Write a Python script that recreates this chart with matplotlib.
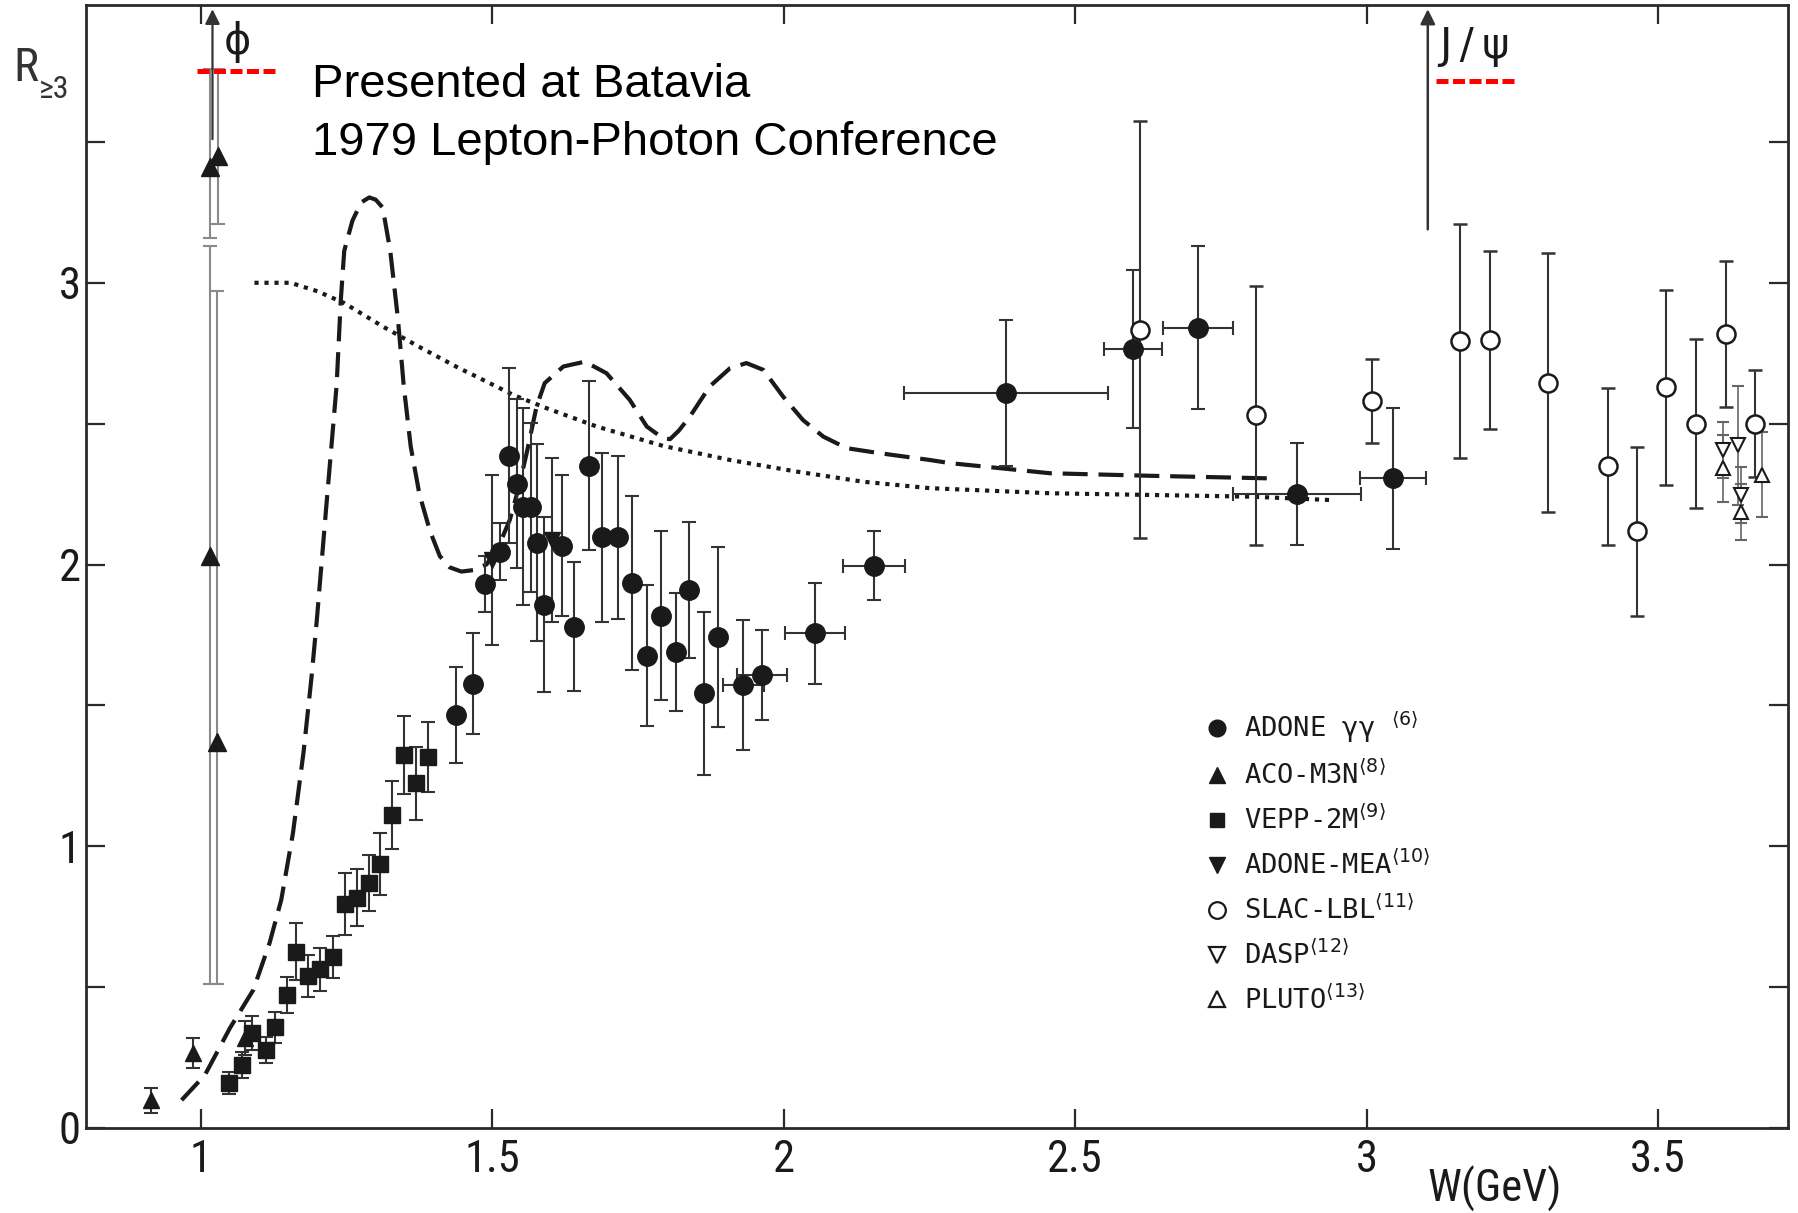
import matplotlib
matplotlib.use("Agg")
import matplotlib.pyplot as plt
from matplotlib.lines import Line2D
from matplotlib import font_manager as fm

# ---------------- data ----------------
# ADONE gamma-gamma (filled circles)
adone_w = [1.437, 1.467, 1.487, 1.513, 1.528, 1.543, 1.553, 1.567, 1.576, 1.589,
           1.619, 1.640, 1.666, 1.689, 1.715, 1.739, 1.765, 1.790, 1.815, 1.837,
           1.863, 1.888, 1.931, 1.963, 2.054, 2.155, 2.381, 2.599, 2.710, 2.880, 3.045]
adone_r = [1.466, 1.577, 1.930, 2.046, 2.386, 2.286, 2.205, 2.203, 2.078, 1.857,
           2.066, 1.780, 2.351, 2.096, 2.096, 1.934, 1.677, 1.819, 1.689, 1.910,
           1.543, 1.742, 1.573, 1.608, 1.756, 1.996, 2.608, 2.764, 2.841, 2.250, 2.306]
adone_dr = [0.17, 0.18, 0.10, 0.10, 0.31, 0.30, 0.35, 0.30, 0.35, 0.31,
            0.25, 0.23, 0.30, 0.30, 0.29, 0.31, 0.25, 0.30, 0.21, 0.24,
            0.29, 0.32, 0.23, 0.16, 0.18, 0.123, 0.26, 0.28, 0.29, 0.18, 0.25]
adone_dw = [0, 0, 0, 0, 0, 0, 0, 0, 0, 0,
            0, 0, 0, 0, 0, 0, 0, 0, 0, 0,
            0, 0, 0.035, 0.043, 0.052, 0.053, 0.175, 0.05, 0.06, 0.11, 0.057]

# ACO-M3N (filled up triangles); first three off-resonance, rest near the phi
aco_w = [0.915, 0.987, 1.076, 1.015, 1.030, 1.015, 1.028]
aco_r = [0.098, 0.265, 0.319, 3.41, 3.45, 2.03, 1.37]
aco_lo = [0.045, 0.053, 0.06, 0.25, 0.24, 1.52, 0.86]
aco_hi = [0.045, 0.053, 0.06, 0.35, 0.31, 1.10, 1.60]

# VEPP-2M (filled squares)
vepp_w = [1.049, 1.070, 1.087, 1.111, 1.128, 1.147, 1.164, 1.184, 1.204, 1.227,
          1.247, 1.268, 1.289, 1.308, 1.328, 1.348, 1.369, 1.390]
vepp_r = [0.159, 0.224, 0.336, 0.277, 0.357, 0.472, 0.626, 0.540, 0.563, 0.606,
          0.795, 0.818, 0.869, 0.937, 1.111, 1.324, 1.224, 1.316]
vepp_dr = [0.04, 0.045, 0.06, 0.045, 0.055, 0.065, 0.10, 0.075, 0.075, 0.075,
           0.11, 0.10, 0.10, 0.11, 0.12, 0.14, 0.13, 0.125]

# ADONE-MEA (filled down triangles)
mea_w = [1.499, 1.603]
mea_r = [2.016, 2.087]
mea_dr = [0.30, 0.29]

# SLAC-LBL (open circles)
slac_w = [2.611, 2.810, 3.010, 3.160, 3.211, 3.312, 3.415, 3.464, 3.513, 3.565, 3.616, 3.666]
slac_r = [2.833, 2.529, 2.581, 2.792, 2.797, 2.646, 2.348, 2.118, 2.629, 2.499, 2.819, 2.499]
slac_dr = [0.74, 0.46, 0.15, 0.415, 0.315, 0.46, 0.28, 0.30, 0.345, 0.30, 0.26, 0.19]

# DASP (open down triangles)
dasp_w = [3.612, 3.638, 3.642]
dasp_r = [2.406, 2.423, 2.247]
dasp_dr = [0.10, 0.21, 0.10]

# PLUTO (open up triangles)
pluto_w = [3.612, 3.642, 3.678]
pluto_r = [2.341, 2.187, 2.319]
pluto_dr = [0.12, 0.10, 0.15]

# model curves
dashed_w = [0.967, 1.007, 1.050, 1.090, 1.118, 1.138, 1.158, 1.176, 1.190, 1.199,
            1.215, 1.233, 1.240, 1.246, 1.260, 1.275, 1.289, 1.300, 1.312, 1.325,
            1.338, 1.348, 1.360, 1.375, 1.393, 1.410, 1.427, 1.447, 1.467, 1.490,
            1.510, 1.530, 1.545, 1.559, 1.576, 1.590, 1.622, 1.659, 1.696, 1.736,
            1.765, 1.793, 1.805, 1.820, 1.839, 1.873, 1.908, 1.936, 1.965, 1.999,
            2.033, 2.068, 2.108, 2.165, 2.251, 2.285, 2.457, 2.628, 2.829]
dashed_r = [0.099, 0.188, 0.355, 0.490, 0.657, 0.810, 1.046, 1.330, 1.602, 1.803,
            2.200, 2.637, 2.934, 3.113, 3.220, 3.285, 3.303, 3.295, 3.267, 3.113,
            2.875, 2.637, 2.420, 2.250, 2.120, 2.030, 1.990, 1.975, 1.980, 2.000,
            2.060, 2.158, 2.270, 2.395, 2.561, 2.644, 2.703, 2.720, 2.679, 2.584,
            2.490, 2.448, 2.445, 2.475, 2.525, 2.632, 2.697, 2.715, 2.691, 2.596,
            2.513, 2.454, 2.413, 2.395, 2.371, 2.360, 2.324, 2.315, 2.306]
dotted_w = [1.092, 1.154, 1.200, 1.246, 1.312, 1.377, 1.443, 1.467, 1.536, 1.593,
            1.679, 1.793, 1.908, 2.022, 2.136, 2.251, 2.457, 2.628, 2.800, 2.937]
dotted_r = [3.000, 3.000, 2.970, 2.928, 2.845, 2.770, 2.697, 2.673, 2.602, 2.555,
            2.490, 2.421, 2.371, 2.330, 2.294, 2.271, 2.253, 2.247, 2.241, 2.229]

# resonance markers
phi_w = 1.020
jpsi_w = 3.105
jpsi_arrow_base = 3.18
phi_mark_w = [0.993, 1.127]
phi_mark_r = 3.752
jpsi_mark_w = [3.119, 3.253]
jpsi_mark_r = 3.717

xtick_vals = [1, 1.5, 2, 2.5, 3, 3.5]
xtick_labels = ["1", "1.5", "2", "2.5", "3", "3.5"]
ytick_vals = [0, 0.5, 1, 1.5, 2, 2.5, 3, 3.5]
ytick_labels = ["0", "", "1", "", "2", "", "3", ""]

legend_labels = [r"ADONE γγ $^{\langle 6\rangle}$",
                 r"ACO-M3N$^{\langle 8\rangle}$",
                 r"VEPP-2M$^{\langle 9\rangle}$",
                 r"ADONE-MEA$^{\langle 10\rangle}$",
                 r"SLAC-LBL$^{\langle 11\rangle}$",
                 r"DASP$^{\langle 12\rangle}$",
                 r"PLUTO$^{\langle 13\rangle}$"]

# ---------------- fonts ----------------
installed = {f.name for f in fm.fontManager.ttflist}
narrow_candidates = ["Roboto Condensed", "Liberation Sans Narrow", "Open Sans Condensed",
                     "DejaVu Sans Condensed"]
narrow_found = [n for n in narrow_candidates if n in installed]
if narrow_found:
    narrow = [narrow_found[0], "DejaVu Sans"]
    tick_fs = 32
else:
    narrow = ["DejaVu Sans"]
    tick_fs = 27

# ---------------- figure ----------------
W, H = 1799, 1213
fig = plt.figure(figsize=(W / 100, H / 100), dpi=100)
ax = fig.add_axes([86 / W, 1 - 1128 / H, (1788 - 86) / W, (1128 - 5) / H])
ax.set_xlim(0.803, 3.723)
ax.set_ylim(0, 3.986)

ink = "#1a1a1a"
bar = "#333333"

for sp in ax.spines.values():
    sp.set_linewidth(2.0)
    sp.set_color("#2a2a2a")

ax.set_xticks(xtick_vals)
ax.set_xticklabels(xtick_labels, family=narrow, fontsize=tick_fs, fontstretch="condensed")
ax.set_yticks(ytick_vals)
ax.set_yticklabels(ytick_labels, family=narrow, fontsize=tick_fs, fontstretch="condensed")
ax.tick_params(direction="in", length=14, width=1.6, color="#2a2a2a",
               top=True, right=True, labelcolor=ink)
ax.tick_params(axis="x", pad=8)
ax.tick_params(axis="y", pad=4)

# curves
ax.plot(dashed_w, dashed_r, color=ink, lw=3.0, dashes=(6, 2.6), solid_capstyle="butt")
ax.plot(dotted_w, dotted_r, color=ink, lw=3.0, dashes=(1.0, 1.4))

eb = dict(elinewidth=1.5, capsize=5, capthick=1.5, ls="none")

# ACO-M3N
ax.errorbar(aco_w[:3], aco_r[:3], yerr=[aco_lo[:3], aco_hi[:3]], fmt="^", color=ink,
            ms=12, ecolor=bar, **eb)
ax.errorbar(aco_w[3:], aco_r[3:], yerr=[aco_lo[3:], aco_hi[3:]], fmt="^", color=ink,
            ms=13, ecolor="#8a8a8a", **eb)
# VEPP-2M
ax.errorbar(vepp_w, vepp_r, yerr=vepp_dr, fmt="s", color=ink, ms=11, ecolor=bar, **eb)
# ADONE-MEA
ax.errorbar(mea_w, mea_r, yerr=mea_dr, fmt="v", color=ink, ms=12, ecolor=bar, **eb)
# ADONE gg
ax.errorbar(adone_w, adone_r, yerr=adone_dr, xerr=adone_dw, fmt="o", color=ink, ms=14,
            ecolor=bar, **eb)
# SLAC-LBL
ax.errorbar(slac_w, slac_r, yerr=slac_dr, fmt="o", mfc="white", mec=ink, mew=1.8, ms=13,
            ecolor=bar, **eb)
# DASP / PLUTO
ax.errorbar(dasp_w, dasp_r, yerr=dasp_dr, fmt="v", mfc="white", mec=ink, mew=1.5, ms=10,
            ecolor="#666666", elinewidth=1.2, capsize=4, capthick=1.2, ls="none")
ax.errorbar(pluto_w, pluto_r, yerr=pluto_dr, fmt="^", mfc="white", mec=ink, mew=1.5, ms=10,
            ecolor="#666666", elinewidth=1.2, capsize=4, capthick=1.2, ls="none")

# resonance arrows
ylim_top = ax.get_ylim()[1]
ax.annotate("", xy=(phi_w, ylim_top - 0.005), xytext=(phi_w, 3.5),
            arrowprops=dict(arrowstyle="-|>", lw=1.6, color="#333333", mutation_scale=22))
ax.annotate("", xy=(jpsi_w, ylim_top - 0.005), xytext=(jpsi_w, jpsi_arrow_base),
            arrowprops=dict(arrowstyle="-|>", lw=1.8, color="#333333", mutation_scale=22))

# red dashed markers
ax.plot(phi_mark_w, [phi_mark_r, phi_mark_r], color="#ff0000", lw=3.6,
        dashes=(2.4, 0.9), solid_capstyle="butt", dash_capstyle="butt")
ax.plot(jpsi_mark_w, [jpsi_mark_r, jpsi_mark_r], color="#ff0000", lw=3.6,
        dashes=(2.4, 0.9), solid_capstyle="butt", dash_capstyle="butt")

# legend
handles = [
    Line2D([], [], marker="o", ls="none", color=ink, ms=12),
    Line2D([], [], marker="^", ls="none", color=ink, ms=11),
    Line2D([], [], marker="s", ls="none", color=ink, ms=10),
    Line2D([], [], marker="v", ls="none", color=ink, ms=11),
    Line2D([], [], marker="o", ls="none", mfc="white", mec=ink, mew=1.6, ms=12),
    Line2D([], [], marker="v", ls="none", mfc="white", mec=ink, mew=1.6, ms=11),
    Line2D([], [], marker="^", ls="none", mfc="white", mec=ink, mew=1.6, ms=11),
]
ax.legend(handles, legend_labels, loc="upper left", bbox_to_anchor=(0.6575, 0.372),
          frameon=False, prop={"family": "DejaVu Sans Mono", "size": 19.5},
          handlelength=0.9, handletextpad=0.55, labelspacing=0.58,
          borderaxespad=0, borderpad=0, labelcolor=ink)

# texts (figure pixel positions)
def ftext(x, y, s, **kw):
    fig.text(x / W, 1 - y / H, s, **kw)

ftext(13, 68, "R", family=narrow, fontsize=34, fontstretch="condensed", ha="left",
      va="center", color="#333333")
ftext(39, 90, "≥3", family=narrow, fontsize=23, fontstretch="condensed", ha="left",
      va="center", color="#333333")
ftext(237, 42, "ϕ", family=["DejaVu Sans"], fontsize=30, ha="center", va="center", color=ink)
ftext(1474, 46, "J\u2009/\u2009ψ", family=["DejaVu Sans"], fontsize=30, ha="center",
      va="center", color=ink)
ftext(312, 97, "Presented at Batavia", family=["Liberation Sans", "DejaVu Sans"],
      fontsize=34, ha="left", va="baseline", color="black")
ftext(312, 155, "1979 Lepton-Photon Conference", family=["Liberation Sans", "DejaVu Sans"],
      fontsize=34, ha="left", va="baseline", color="black")
ftext(1495, 1189, "W(GeV)", family=narrow, fontsize=tick_fs, fontstretch="condensed",
      ha="center", va="center", color=ink)

fig.savefig("out.png", dpi=100)
